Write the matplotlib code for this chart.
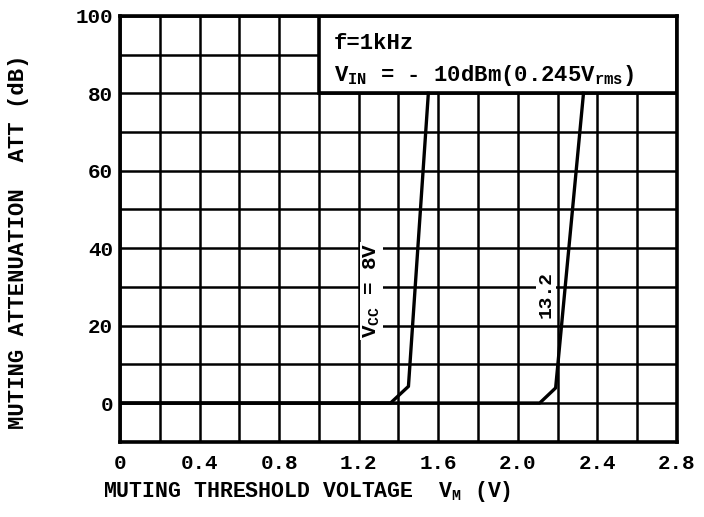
import matplotlib.pyplot as plt
from matplotlib.patches import Rectangle
from matplotlib.ticker import MultipleLocator

plt.rcParams['font.family'] = ['Liberation Mono', 'DejaVu Sans Mono']
plt.rcParams['font.weight'] = 'bold'
plt.rcParams['mathtext.fontset'] = 'custom'
plt.rcParams['mathtext.rm'] = 'Liberation Mono:bold'
plt.rcParams['mathtext.it'] = 'Liberation Mono:bold'
plt.rcParams['mathtext.bf'] = 'Liberation Mono:bold'

# curvas
vm_8v = [0.0, 1.36, 1.45, 1.55]
att_8v = [0, 0, 4.3, 80]
vm_13v = [0.0, 2.11, 2.19, 2.33]
att_13v = [0, 0, 3.9, 80]

xticks = [0, 0.4, 0.8, 1.2, 1.6, 2.0, 2.4, 2.8]
xlabels = ['0', '0.4', '0.8', '1.2', '1.6', '2.0', '2.4', '2.8']
yticks = [0, 20, 40, 60, 80, 100]

fig = plt.figure(figsize=(7.04, 5.17), dpi=100)
ax = fig.add_axes([0.1705, 0.1456, 0.7911, 0.8235])

ax.set_xlim(0, 2.8)
ax.set_ylim(-10, 100)
ax.set_xticks(xticks)
ax.set_xticklabels(xlabels)
ax.set_yticks(yticks)
ax.xaxis.set_minor_locator(MultipleLocator(0.2))
ax.yaxis.set_minor_locator(MultipleLocator(10))
ax.tick_params(which='both', length=0, labelsize=15)
ax.tick_params(axis='x', pad=9)
ax.tick_params(axis='y', pad=5)
ax.grid(which='both', color='black', linewidth=1.8)
ax.set_axisbelow(True)
for s in ax.spines.values():
    s.set_linewidth(2.6)

# recuadro de condiciones
ax.add_patch(Rectangle((1.0, 80), 1.8, 20, facecolor='white', edgecolor='black',
                       linewidth=2.6, zorder=2))
ax.text(1.075, 93, 'f=1kHz', fontsize=16, va='center', zorder=4)
ax.text(1.075, 84.5, r'$\mathrm{V_{IN}}$ = - 10dBm(0.245$\mathrm{V_{rms}}$)',
        fontsize=16, va='center', zorder=4)

ax.plot(vm_8v, att_8v, color='black', linewidth=2.4, zorder=3)
ax.plot(vm_13v, att_13v, color='black', linewidth=2.4, zorder=3)

ax.text(1.265, 29, r'$\mathrm{V_{CC}}$ = 8V', rotation=90, fontsize=15,
        ha='center', va='center', zorder=4,
        bbox=dict(facecolor='white', edgecolor='none', pad=1))
ax.text(2.14, 28, '13.2', rotation=90, fontsize=14, ha='center', va='center',
        zorder=4, bbox=dict(facecolor='white', edgecolor='none', pad=1))

ax.set_xlabel(r'MUTING THRESHOLD VOLTAGE  $\mathrm{V_M}$ (V)', fontsize=15.5,
              fontweight='bold')
ax.xaxis.set_label_coords(0.336, -0.088)
ax.set_ylabel('MUTING ATTENUATION  ATT (dB)', fontsize=16, fontweight='bold')
ax.yaxis.label.set_verticalalignment('center')
ax.yaxis.set_label_coords(-0.182, 0.469)

fig.savefig('out.png', dpi=100)
